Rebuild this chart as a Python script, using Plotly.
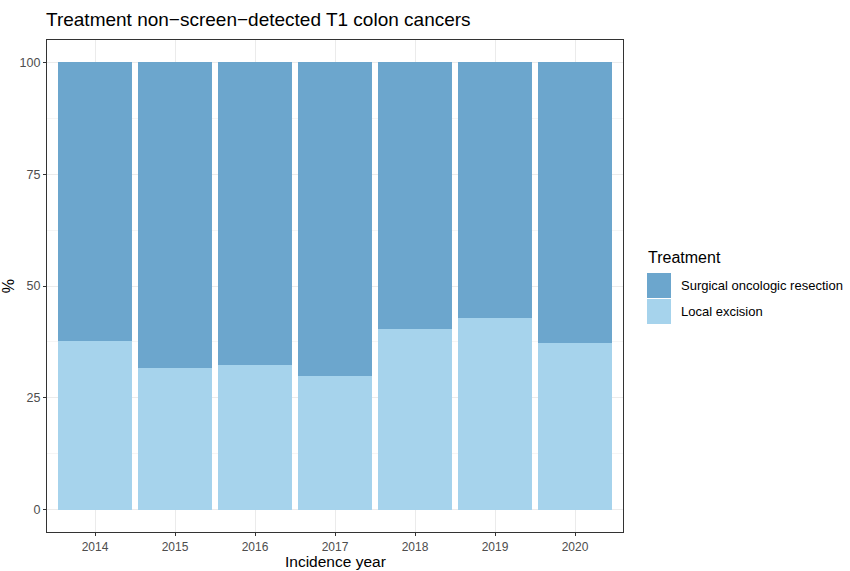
import plotly.graph_objects as go

years = ["2014", "2015", "2016", "2017", "2018", "2019", "2020"]
local_excision = [37.6, 31.6, 32.3, 29.9, 40.3, 42.9, 37.3]
surgical_resection = [round(100 - v, 1) for v in local_excision]

series_names = ["Surgical oncologic resection", "Local excision"]
series_colors = ["#6ca6cd", "#a6d3ec"]

fig = go.Figure()
fig.add_trace(go.Bar(x=years, y=local_excision, name=series_names[1],
                     marker=dict(color=series_colors[1], line=dict(width=0)),
                     width=0.92, showlegend=False))
fig.add_trace(go.Bar(x=years, y=surgical_resection, name=series_names[0],
                     marker=dict(color=series_colors[0], line=dict(width=0)),
                     width=0.92, showlegend=False))

W, H = 850, 571
ml, mr, mt, mb = 47, 227, 40, 39
pw, ph = W - ml - mr, H - mt - mb

def px_to_paper(x, y):
    return (x - ml) / pw, 1 - (y - mt) / ph

shapes = []
annotations = []
tx, ty = px_to_paper(646, 257)
annotations.append(dict(x=tx, y=ty, xref="paper", yref="paper", text="Treatment",
                        showarrow=False, xanchor="left", yanchor="middle",
                        font=dict(size=16, color="black")))
for i, (name, col) in enumerate(zip(series_names, series_colors)):
    top = 273 + i * 26
    x0, y0 = px_to_paper(647, top)
    x1, y1 = px_to_paper(671, top + 25)
    shapes.append(dict(type="rect", xref="paper", yref="paper", x0=x0, x1=x1,
                       y0=y1, y1=y0, fillcolor=col, line=dict(width=0)))
    ax, ay = px_to_paper(679, top + 12.5)
    annotations.append(dict(x=ax, y=ay, xref="paper", yref="paper", text=name,
                            showarrow=False, xanchor="left", yanchor="middle",
                            font=dict(size=13, color="black")))

# x axis title as annotation for exact placement
xt, yt = px_to_paper(335, 561)
annotations.append(dict(x=0.5, y=yt, xref="paper", yref="paper", text="Incidence year",
                        showarrow=False, xanchor="center", yanchor="middle",
                        borderpad=0,
                        font=dict(size=15.5, color="black")))

fig.update_layout(
    barmode="stack",
    width=W, height=H,
    margin=dict(l=ml, r=mr, t=mt, b=mb, autoexpand=False),
    paper_bgcolor="white", plot_bgcolor="white",
    font=dict(family="Liberation Sans, Arial, sans-serif", color="#4d4d4d"),
    title=dict(text="Treatment non\u2212screen\u2212detected T1 colon cancers",
               x=46 / W, xanchor="left", y=1 - 19 / H, yanchor="middle",
               font=dict(size=19, color="black")),
    shapes=shapes,
    annotations=annotations,
    xaxis=dict(
        range=[-0.6, 6.6], type="category", automargin=False,
        showline=True, mirror=True, linecolor="#333333", linewidth=1.2,
        ticks="outside", ticklen=3, tickcolor="#333333",
        showgrid=True, gridcolor="#ebebeb", gridwidth=1,
        tickfont=dict(size=12, color="#4d4d4d"),
    ),
    yaxis=dict(
        range=[-5, 105], automargin=False,
        tickvals=[0, 25, 50, 75, 100],
        showline=True, mirror=True, linecolor="#333333", linewidth=1.2,
        ticks="outside", ticklen=3, tickcolor="#333333",
        showgrid=True, gridcolor="#ebebeb", gridwidth=1,
        minor=dict(tickvals=[12.5, 37.5, 62.5, 87.5], showgrid=True,
                   gridcolor="#f5f5f5", gridwidth=0.6, ticks=""),
        zeroline=False,
        tickfont=dict(size=12.5, color="#4d4d4d"),
        title=dict(text="%", font=dict(size=16, color="black"), standoff=2),
    ),
)

fig.write_html("out.html", config={"displayModeBar": False},
               post_script="document.body.style.margin='0';document.body.style.overflow='hidden';")
